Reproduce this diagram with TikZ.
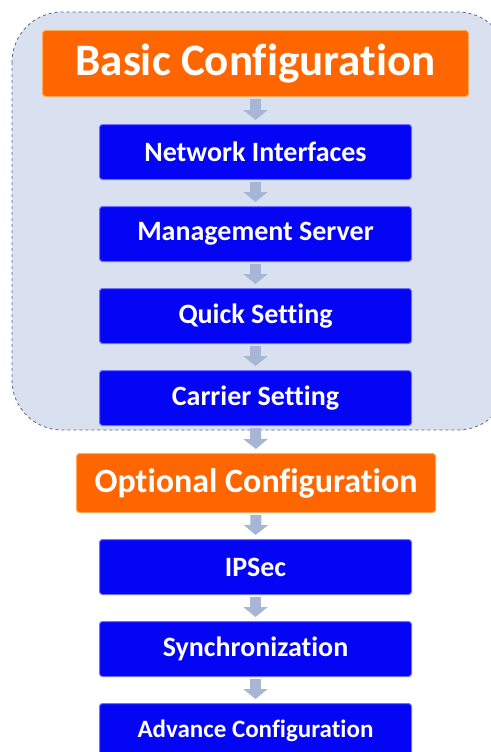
\documentclass[tikz,border=0pt]{standalone}
\usepackage{fontspec}
\setmainfont[Ligatures={NoCommon}]{Carlito}
\usetikzlibrary{arrows.meta}
\definecolor{contfill}{RGB}{217,225,241}
\definecolor{contdraw}{RGB}{84,104,140}
\definecolor{orangebox}{RGB}{255,102,0}
\definecolor{orangeedge}{RGB}{255,170,90}
\definecolor{bluebox}{RGB}{5,5,245}
\definecolor{blueedge}{RGB}{110,110,255}
\definecolor{arrowcol}{RGB}{168,182,214}
\tikzset{
  x=1pt, y=-1pt,
  headbox/.style={draw=orangeedge, line width=1pt, fill=orangebox, rounded corners=3pt,
    text=white, font=\bfseries, inner sep=0pt, anchor=north west},
  stepbox/.style={draw=blueedge, line width=1pt, fill=bluebox, rounded corners=3pt,
    text=white, font=\fontsize{28}{32}\selectfont\bfseries, inner sep=0pt, anchor=north west,
    minimum width=312pt, minimum height=55pt},
  flowarrow/.style={draw=arrowcol, line width=11pt,
    -{Triangle[width=24pt,length=10pt]}, shorten <=2pt, shorten >=4pt}
}
\begin{document}
\begin{tikzpicture}
\useasboundingbox (0,0) rectangle (490,752);
% container
\draw[contdraw, fill=contfill, dashed, line width=0.8pt, rounded corners=50pt]
  (12,12) rectangle (508,430);
% nodes
\node[headbox, minimum width=426pt, minimum height=66pt, font=\fontsize{45}{50}\selectfont\bfseries]
  (basic) at (42,30) {Basic Configuration};
\node[stepbox] (net) at (99,124) {Network Interfaces};
\node[stepbox] (mgmt) at (99,206) {Management Server};
\node[stepbox] (quick) at (99,288) {Quick Setting};
\node[stepbox] (carrier) at (99,370) {Carrier Setting};
\node[headbox, minimum width=359pt, minimum height=59pt, font=\fontsize{34}{40}\selectfont\bfseries]
  (opt) at (76,453) {Optional Configuration};
\node[stepbox] (ipsec) at (99,539) {IPSec};
\node[stepbox] (sync) at (99,621) {Synchronization};
\node[stepbox, font=\fontsize{25}{30}\selectfont\bfseries] (adv) at (99,703) {Advance Configuration};
% arrows
\draw[flowarrow] (basic.south) -- (net.north);
\draw[flowarrow] (net.south) -- (mgmt.north);
\draw[flowarrow] (mgmt.south) -- (quick.north);
\draw[flowarrow] (quick.south) -- (carrier.north);
\draw[flowarrow] (carrier.south) -- (opt.north);
\draw[flowarrow] (opt.south) -- (ipsec.north);
\draw[flowarrow] (ipsec.south) -- (sync.north);
\draw[flowarrow] (sync.south) -- (adv.north);
\end{tikzpicture}
\end{document}
